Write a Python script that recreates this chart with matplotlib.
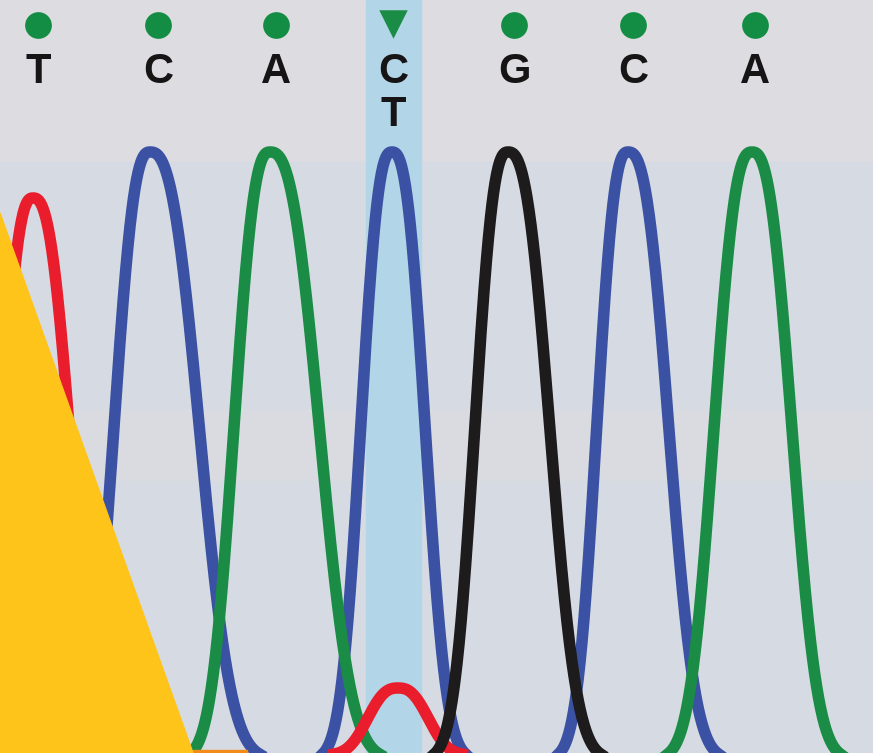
import numpy as np
import matplotlib
matplotlib.use('Agg')
import matplotlib.pyplot as plt
from matplotlib.patches import Polygon, Rectangle

plt.rcParams['font.family'] = ['Liberation Sans', 'DejaVu Sans']

# base calls along the top (x in trace units)
base_calls = ['T', 'C', 'A', 'C', 'G', 'C', 'A']
base_x = [38, 158, 276, 393, 514, 633, 755]
ambiguous_idx = 3
second_call = 'T'

# peaks per channel: centre, height, left / right half-width at half-height
blue_c = [150, 392, 628]
blue_h = [607, 607, 607]
blue_wl = [38, 33, 33]
blue_wr = [52, 35, 43]

green_c = [270, 752]
green_h = [607, 607]
green_wl = [38, 40]
green_wr = [52, 42]

black_c = [508]
black_h = [607]
black_wl = [35]
black_wr = [44]

red_c = [33, 398]
red_h = [557, 67]
red_wl = [34, 32]
red_wr = [40, 32]

baseline = -6
red_baseline = -2

# highlighted column and the yellow overlay
highlight = (366, 421)
yellow_tri = [(0, 0), (0, 540), (193, 0)]

BLUE = '#3b51a3'
GREEN = '#1a8c45'
BLACK = '#1d1b1b'
RED = '#e91d2b'


def trace(x, cs, hs, wls, wrs, base):
    y = np.full_like(x, float(base))
    for c, h, wl, wr in zip(cs, hs, wls, wrs):
        w = np.where(x < c, wl, wr)
        y += h * np.exp(-np.log(2) * np.abs((x - c) / w) ** 2.6)
    return y


fig = plt.figure(figsize=(8.73, 7.53), dpi=100)
ax = fig.add_axes([0, 0, 1, 1])
ax.set_xlim(0, 873)
ax.set_ylim(0, 753)
ax.axis('off')

# background bands
ax.axhspan(591, 753, color='#dcdce1', zorder=0)
ax.axhspan(0, 591, color='#d6dbe3', zorder=0)
ax.axhspan(273, 343, color='#d9dbe1', zorder=0)
ax.axvspan(highlight[0], highlight[1], color='#b3d5e8', zorder=1)

x = np.linspace(0, 873, 1747)
lw = 8.3
ax.plot(x, trace(x, blue_c, blue_h, blue_wl, blue_wr, baseline), color=BLUE, lw=lw, zorder=2)
ax.plot(x, trace(x, green_c, green_h, green_wl, green_wr, baseline), color=GREEN, lw=lw, zorder=3)
ax.plot(x, trace(x, red_c, red_h, red_wl, red_wr, red_baseline), color=RED, lw=lw, zorder=4)
ax.plot(x, trace(x, black_c, black_h, black_wl, black_wr, baseline), color=BLACK, lw=lw, zorder=5)

ax.add_patch(Rectangle((193, 0), 54, 3, color='#f28b1a', zorder=6))
ax.add_patch(Polygon(yellow_tri, closed=True, color='#fec41a', zorder=7))

# base call markers and letters
for i, (b, bx) in enumerate(zip(base_calls, base_x)):
    if i == ambiguous_idx:
        ax.scatter([bx], [729], marker='v', s=420, color='#1a8c45', zorder=8, linewidths=0)
        ax.text(bx, 638, second_call, ha='center', va='center', fontsize=30,
                fontweight='bold', color='#161414', zorder=8)
    else:
        ax.scatter([bx], [728], marker='o', s=370, color='#138c44', zorder=8, linewidths=0)
    ax.text(bx, 681, b, ha='center', va='center', fontsize=30, fontweight='bold',
            color='#161414', zorder=8)

fig.savefig('out.png', dpi=100)
